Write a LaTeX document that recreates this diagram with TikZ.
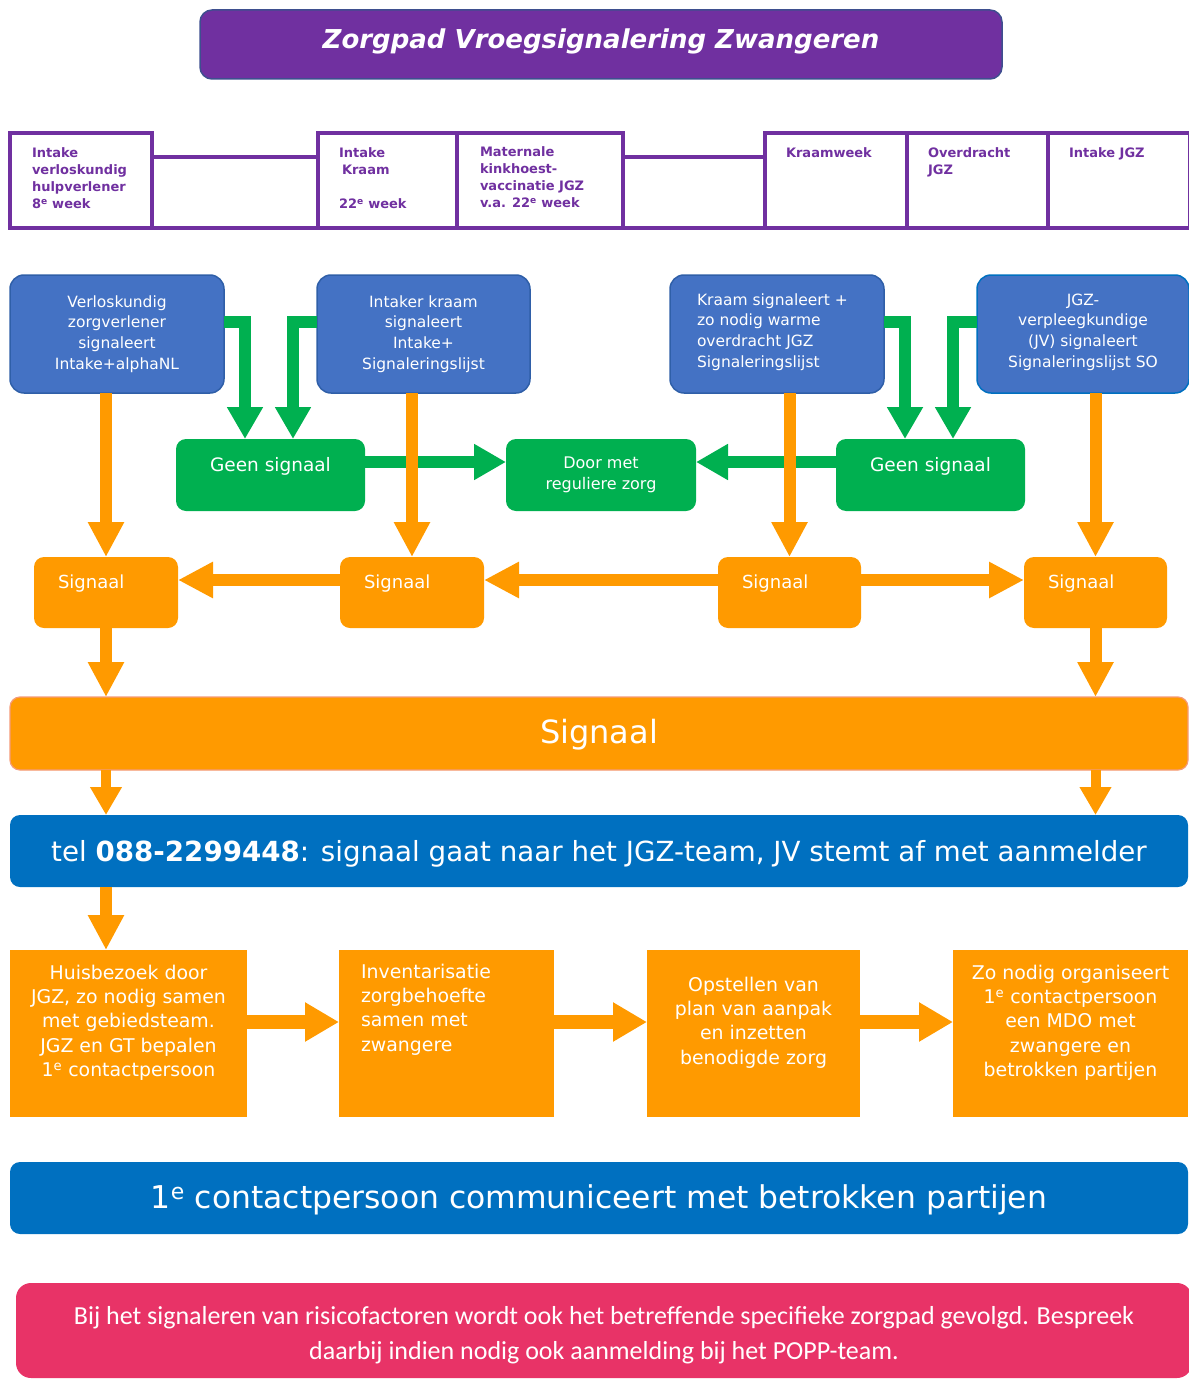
\documentclass[tikz,border=0pt]{standalone}
\usepackage{fontspec}
\setmainfont{DejaVu Sans}
\newfontfamily\carl{Carlito}
\usetikzlibrary{arrows.meta}
\definecolor{cpurple}{HTML}{7030A0}
\definecolor{ctitleline}{HTML}{3E4F8F}
\definecolor{cblue}{HTML}{4472C4}
\definecolor{cblueline}{HTML}{2F5FA8}
\definecolor{cgreen}{HTML}{00B050}
\definecolor{corange}{HTML}{FF9A00}
\definecolor{cbar}{HTML}{0070C0}
\definecolor{cpink}{HTML}{E83367}
\definecolor{csalmon}{HTML}{F59A78}

\begin{document}
\begin{tikzpicture}[x=1pt,y=-1pt,
  every node/.style={inner sep=0pt, outer sep=0pt},
  titlebox/.style={fill=cpurple, draw=ctitleline, line width=1.5pt, rounded corners=12pt},
  hbox/.style={draw=cpurple, line width=3.5pt},
  htext/.style={text=cpurple, font=\fontsize{13}{17}\selectfont\bfseries, align=left, anchor=north west},
  bluebox/.style={fill=cblue, draw=cblueline, line width=1.5pt, rounded corners=14pt},
  btext/.style={text=white, font=\fontsize{15.5}{20.7}\selectfont, align=center},
  greenbox/.style={fill=cgreen, rounded corners=10pt},
  sigbox/.style={fill=corange, rounded corners=10pt},
  wtext/.style={text=white, font=\fontsize{18.5}{22}\selectfont},
  bar/.style={fill=cbar, rounded corners=10pt},
  stepbox/.style={fill=corange},
  stext/.style={text=white, font=\fontsize{18.9}{24.3}\selectfont, align=center},
  garrow/.style={draw=cgreen, line width=12pt, line join=miter, -{Triangle[width=34pt,length=32pt]}},
  oarrow/.style={draw=corange, line width=12pt, -{Triangle[width=34pt,length=35pt]}},
  oarrowsm/.style={draw=corange, line width=10pt, -{Triangle[width=30pt,length=28pt]}},
  oarrowbig/.style={draw=corange, line width=14pt, -{Triangle[width=37pt,length=34pt]}}
]
\useasboundingbox (0,0) rectangle (1188,1380);

% title
\node[titlebox, minimum width=802pt, minimum height=69pt] (title) at (601,44.5) {};
\node[text=white, font=\fontsize{26}{30}\selectfont\bfseries\itshape] at ([yshift=3pt]title.center) {Zorgpad Vroegsignalering Zwangeren};

% time line of the pregnancy
\node[hbox, minimum width=142pt, minimum height=95pt] (hd1) at (81,180.5) {};
\node[hbox, minimum width=166pt, minimum height=71pt] (gp1) at (235,192.5) {};
\node[hbox, minimum width=139pt, minimum height=95pt] (hd2) at (387.5,180.5) {};
\node[hbox, minimum width=166pt, minimum height=95pt] (hd3) at (540,180.5) {};
\node[hbox, minimum width=142pt, minimum height=71pt] (gp2) at (694,192.5) {};
\node[hbox, minimum width=142pt, minimum height=95pt] (hd4) at (836,180.5) {};
\node[hbox, minimum width=141pt, minimum height=95pt] (hd5) at (977.5,180.5) {};
\node[hbox, minimum width=142pt, minimum height=95pt] (hd6) at (1119,180.5) {};

\node[htext] at ([shift={(22,15)}]hd1.north west) {Intake\\verloskundig\\hulpverlener\\8\textsuperscript{e} week};
\node[htext] at ([shift={(21,15)}]hd2.north west) {Intake\\\hspace{3pt}Kraam\\\mbox{}\\22\textsuperscript{e} week};
\node[htext] at ([shift={(23,14)}]hd3.north west) {Maternale\\kinkhoest-\\vaccinatie JGZ\\v.a. 22\textsuperscript{e} week};
\node[htext] at ([shift={(21,15)}]hd4.north west) {Kraamweek};
\node[htext] at ([shift={(21,15)}]hd5.north west) {Overdracht\\JGZ};
\node[htext] at ([shift={(21,15)}]hd6.north west) {Intake JGZ};

% who signals
\node[bluebox, minimum width=214pt, minimum height=118pt] (B1) at (117,334) {};
\node[bluebox, minimum width=213pt, minimum height=118pt] (B2) at (423.5,334) {};
\node[bluebox, minimum width=214pt, minimum height=118pt] (B3) at (777,334) {};
\node[bluebox, draw=cbar, minimum width=212pt, minimum height=118pt] (B4) at (1083,334) {};
\node[btext] at (B1.center) {Verloskundig\\zorgverlener\\signaleert\\Intake+alphaNL};
\node[btext] at (B2.center) {Intaker kraam\\signaleert\\Intake+\\Signaleringslijst};
\node[btext, align=left, anchor=west] at ([shift={(27,-2)}]B3.west) {Kraam signaleert +\\zo nodig warme\\overdracht JGZ\\Signaleringslijst};
\node[btext] at ([yshift=2pt]B4.center) {JGZ-\\verpleegkundige\\(JV) signaleert\\Signaleringslijst SO};

% no signal
\node[greenbox, minimum width=189pt, minimum height=72pt] (G1) at (270.5,475) {};
\node[greenbox, minimum width=190pt, minimum height=72pt] (D) at (601,475) {};
\node[greenbox, minimum width=189pt, minimum height=72pt] (G2) at (930.5,475) {};
\node[wtext] at ([yshift=9pt]G1.center) {Geen signaal};
\node[wtext] at ([yshift=9pt]G2.center) {Geen signaal};
\node[text=white, font=\fontsize{16}{21}\selectfont, align=center] at ([yshift=0pt]D.center) {Door met\\reguliere zorg};

% signal
\node[sigbox, minimum width=144pt, minimum height=71pt] (S1) at (106,592.5) {};
\node[sigbox, minimum width=144pt, minimum height=71pt] (S2) at (412,592.5) {};
\node[sigbox, minimum width=143pt, minimum height=71pt] (S3) at (789.5,592.5) {};
\node[sigbox, minimum width=143pt, minimum height=71pt] (S4) at (1095.5,592.5) {};
\foreach \s in {S1,S2,S3,S4}
  \node[text=white, font=\fontsize{18}{22}\selectfont, anchor=west] at ([shift={(24,-9)}]\s.west) {Signaal};

% wide bars
\node[sigbox, draw=csalmon, line width=1.2pt, minimum width=1178pt, minimum height=73pt] (Bar) at (599,733.5) {};
\node[text=white, font=\fontsize{32}{36}\selectfont] at ([yshift=-1pt]Bar.center) {Signaal};
\node[bar, minimum width=1178pt, minimum height=72pt] (Tel) at (599,851) {};
\node[text=white, font=\fontsize{27.7}{32}\selectfont] at ([yshift=-3pt]Tel.center) {tel \textbf{088-2299448}: signaal gaat naar het JGZ-team, JV stemt af met aanmelder};

% follow-up steps
\node[stepbox, minimum width=237pt, minimum height=167pt] (H1) at (128.5,1033.5) {};
\node[stepbox, minimum width=215pt, minimum height=167pt] (H2) at (446.5,1033.5) {};
\node[stepbox, minimum width=213pt, minimum height=167pt] (H3) at (753.5,1033.5) {};
\node[stepbox, minimum width=235pt, minimum height=167pt] (H4) at (1070.5,1033.5) {};
\node[stext] at ([yshift=11pt]H1.center) {Huisbezoek door\\JGZ, zo nodig samen\\met gebiedsteam.\\JGZ en GT bepalen\\1\textsuperscript{e} contactpersoon};
\node[stext, align=left, anchor=west] at ([shift={(22,-24)}]H2.west) {Inventarisatie\\zorgbehoefte\\samen met\\zwangere};
\node[stext] at ([yshift=11pt]H3.center) {Opstellen van\\plan van aanpak\\en inzetten\\benodigde zorg};
\node[stext] at ([yshift=11pt]H4.center) {Zo nodig organiseert\\1\textsuperscript{e} contactpersoon\\een MDO met\\zwangere en\\betrokken partijen};

\node[bar, minimum width=1178pt, minimum height=72pt] (Comm) at (599,1198) {};
\node[text=white, font=\fontsize{31.4}{36}\selectfont] at ([yshift=-2pt]Comm.center) {1\textsuperscript{e} contactpersoon communiceert met betrokken partijen};

\node[fill=cpink, rounded corners=15pt, minimum width=1176pt, minimum height=95pt] (P) at (604,1330.5) {};
\node[text=white, font=\carl\fontsize{26}{35}\selectfont, align=center] at ([yshift=-5pt]P.center) {Bij het signaleren van risicofactoren wordt ook het betreffende specifieke zorgpad gevolgd. Bespreek\\daarbij indien nodig ook aanmelding bij het POPP-team.};

% green connectors
\draw[garrow] ([yshift=12pt]B1.east) -| ([xshift=-25.5pt]G1.north);
\draw[garrow] ([yshift=12pt]B2.west) -| ([xshift=22.5pt]G1.north);
\draw[garrow] ([yshift=12pt]B3.east) -| ([xshift=-25.5pt]G2.north);
\draw[garrow] ([yshift=12pt]B4.west) -| ([xshift=22.5pt]G2.north);
\draw[garrow] ([yshift=13pt]G1.east) -- ([yshift=13pt]D.west);
\draw[garrow] ([yshift=13pt]G2.west) -- ([yshift=13pt]D.east);

% orange connectors
\draw[oarrow] (S1.north |- B1.south) -- (S1.north);
\draw[oarrow] (S2.north |- B2.south) -- (S2.north);
\draw[oarrow] (S3.north |- B3.south) -- (S3.north);
\draw[oarrow] (S4.north |- B4.south) -- (S4.north);
\draw[oarrow] ([yshift=12.5pt]S2.west) -- ([yshift=12.5pt]S1.east);
\draw[oarrow] ([yshift=12.5pt]S3.west) -- ([yshift=12.5pt]S2.east);
\draw[oarrow] ([yshift=12.5pt]S3.east) -- ([yshift=12.5pt]S4.west);
\draw[oarrow] (S1.south) -- (S1.south |- Bar.north);
\draw[oarrow] (S4.south) -- (S4.south |- Bar.north);
\draw[oarrowsm] (S1.south |- Bar.south) -- (S1.south |- Tel.north);
\draw[oarrowsm] (S4.south |- Bar.south) -- (S4.south |- Tel.north);
\draw[oarrow] (S1.south |- Tel.south) -- (S1.south |- H1.north);
\draw[oarrowbig] ([yshift=11.5pt]H1.east) -- ([yshift=11.5pt]H2.west);
\draw[oarrowbig] ([yshift=11.5pt]H2.east) -- ([yshift=11.5pt]H3.west);
\draw[oarrowbig] ([yshift=11.5pt]H3.east) -- ([yshift=11.5pt]H4.west);
\end{tikzpicture}
\end{document}
